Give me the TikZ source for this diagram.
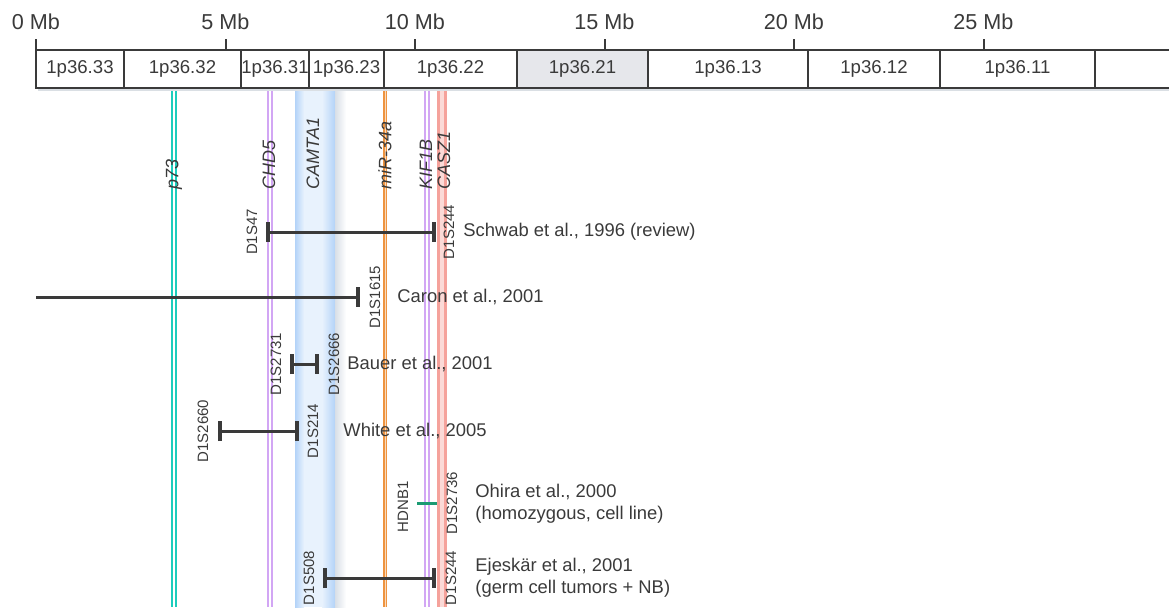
\documentclass[tikz,border=0pt]{standalone}
\usepackage{fontspec}
\setmainfont{Liberation Sans}
\usetikzlibrary{calc,arrows.meta}
\definecolor{ink}{HTML}{3A3A3A}
\definecolor{haze}{HTML}{E6E7EB}
\definecolor{turq}{HTML}{1CCDBD}
\definecolor{lilac}{HTML}{D2A6F4}
\definecolor{azure}{HTML}{B3D3F8}
\definecolor{amber}{HTML}{EE9440}
\definecolor{salmon}{HTML}{F5A29B}
\definecolor{jade}{HTML}{1B9B73}
\begin{document}
\begin{tikzpicture}[x=0.5pt,y=-0.5pt,font=\fontsize{9.2}{11}\selectfont,
  gene/.style={line width=0.9pt,double distance=1.2pt},
  genelabel/.style={rotate=90,anchor=west,inner sep=0pt,text=ink,
    font=\fontsize{9}{11}\selectfont\itshape},
  marker/.style={rotate=90,inner sep=1pt,text=ink,font=\fontsize{7.5}{9}\selectfont},
  study/.style={anchor=west,align=left,inner sep=0pt,text=ink},
  del/.style={ink,line width=1.5pt,>={Bar[width=10pt,line width=2pt]}}]
  \useasboundingbox (0,0) rectangle (1169,607);
  % genes
  \fill[azure!30] (295,88) rectangle (335,607);
  \shade[left color=azure,right color=azure!30] (295,88) rectangle (304,607);
  \shade[left color=azure!30,right color=azure] (322,88) rectangle (335,607);
  \shade[left color=azure!70!black!30,right color=white] (335,88) rectangle (346,607);
  \draw[gene,turq,double=white] (173.7,88) -- (173.7,607);
  \draw[gene,lilac,double=white] (270,88) -- (270,607);
  \draw[gene,amber,double=amber!35,line width=0.6pt,double distance=0.8pt]
    (385.3,88) -- (385.3,607);
  \draw[gene,lilac,double=white] (427,88) -- (427,607);
  \draw[gene,salmon,double=salmon!40,line width=1.3pt,double distance=2.4pt]
    (442,88) -- (442,607);
  \node[genelabel] (p73) at (174,190) {p73};
  \node[genelabel] (chd5) at (269,190) {CHD5};
  \node[genelabel] (camta1) at (313,190) {CAMTA1};
  \node[genelabel] (mir34a) at (385,190) {miR-34a};
  \node[genelabel] (kif1b) at (426,190) {KIF1B};
  \node[genelabel] (casz1) at (444,190) {CASZ1};
  % ruler and bands
  \foreach \m in {0,5,...,25}{
     \draw[ink,line width=1pt] ({36+37.9*\m},50) -- ++(0,-11);
     \node[text=ink,font=\fontsize{10.8}{13}\selectfont] (mb\m) at ({36+37.9*\m},22) {\m\ Mb};}
  \draw[azure!60!black!25,line width=1.2pt] (38,90) -- (1169,90);
  \foreach \a/\b/\t/\f [count=\i] in {36/124/1p36.33/white,124/241/1p36.32/white,
     241/309/1p36.31/white,309/384/1p36.23/white,384/517/1p36.22/white,
     517/648/1p36.21/haze,648/808/1p36.13/white,808/940/1p36.12/white,
     940/1095/1p36.11/white}{
     \draw[ink,line width=0.75pt,fill=\f] (\a,50) rectangle (\b,88);
     \node[text=ink,font=\fontsize{9.3}{11}\selectfont] (band\i) at ({(\a+\b)/2},69) {\t};}
  \draw[ink,line width=0.75pt] (1175,50) -- (1095,50) -- (1095,88) -- (1175,88);
  % Schwab
  \coordinate (sw1) at (266,232); \coordinate (sw2) at (436,232);
  \draw[del,<->] (sw1) -- (sw2);
  \node[marker] (d1s47) at (252,232) {D1S47};
  \node[marker] (d1s244a) at (449,232) {D1S244};
  \node[study] (schwab) at (463,232) {Schwab et al., 1996 (review)};
  % Caron
  \coordinate (cr1) at (36,297); \coordinate (cr2) at (360,297);
  \draw[del,->] (cr1) -- (cr2);
  \node[marker] (d1s1615) at (375,297) {D1S1615};
  \node[study] (caron) at (397,297) {Caron et al., 2001};
  % Bauer
  \coordinate (bu1) at (290,364); \coordinate (bu2) at (319,364);
  \draw[del,<->] (bu1) -- (bu2);
  \node[marker] (d1s2731) at (276,364) {D1S2731};
  \node[marker] (d1s2666) at (334,364) {D1S2666};
  \node[study] (bauer) at (347,364) {Bauer et al., 2001};
  % White
  \coordinate (wh1) at (218,431); \coordinate (wh2) at (299,431);
  \draw[del,<->] (wh1) -- (wh2);
  \node[marker] (d1s2660) at (203,431) {D1S2660};
  \node[marker] (d1s214) at (313,431) {D1S214};
  \node[study] (white) at (343,431) {White et al., 2005};
  % Ohira (homozygous)
  \coordinate (oh1) at (417,503); \coordinate (oh2) at (437,503);
  \draw[jade,line width=1.5pt] (oh1) -- (oh2);
  \node[marker] (hdnb1) at (403,507) {HDNB1};
  \node[marker] (d1s2736) at (452,503) {D1S2736};
  \node[study] (ohira) at (475,504) {Ohira et al., 2000\\(homozygous, cell line)};
  % Ejeskar
  \coordinate (ej1) at (323,578); \coordinate (ej2) at (436,578);
  \draw[del,<->] (ej1) -- (ej2);
  \node[marker] (d1s508) at (309,578) {D1S508};
  \node[marker] (d1s244b) at (451,578) {D1S244};
  \node[study] (ejeskar) at (475,578) {Ejeskär et al., 2001\\(germ cell tumors + NB)};
\end{tikzpicture}
\end{document}
